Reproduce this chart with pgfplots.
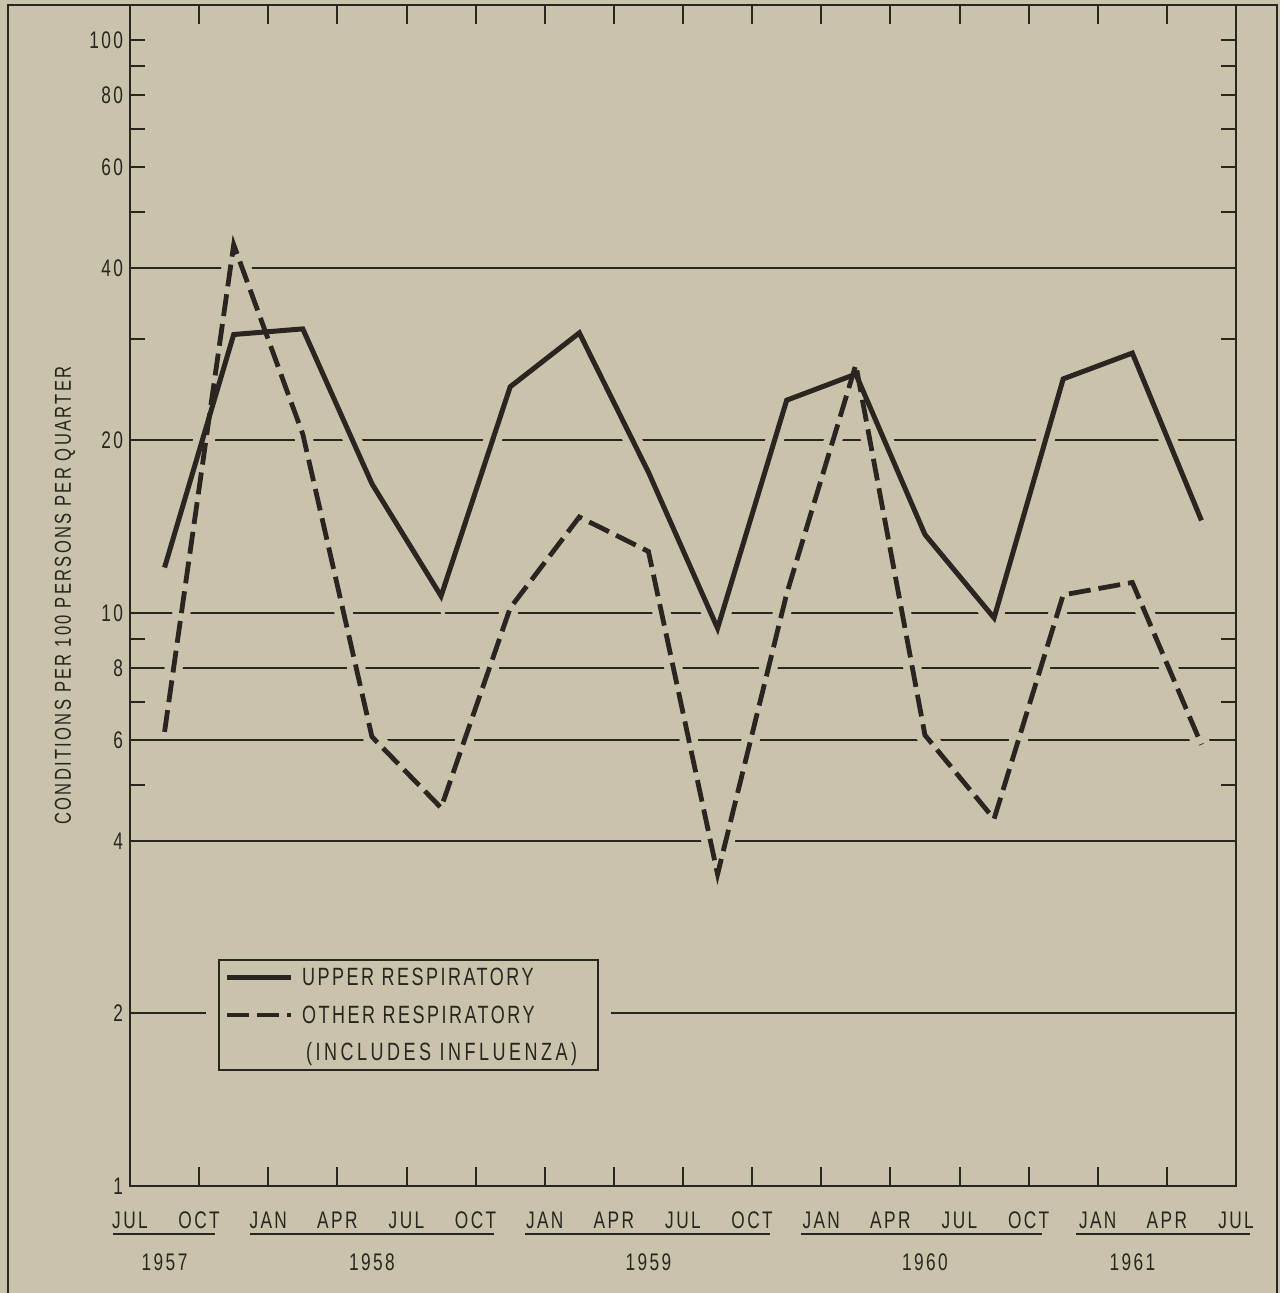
\documentclass[border=0pt]{standalone}
\usepackage{fontspec}
\setmainfont{Liberation Sans}[FakeStretch=0.72, LetterSpace=10]
\usepackage{pgfplots}
\usepackage{pgfplotstable}
\pgfplotsset{compat=1.18}
\definecolor{ink}{HTML}{2A2521}
\definecolor{paper}{HTML}{C9C3AB}

% quarter index (0 = JUL 1957), rates per 100 persons per quarter
\pgfplotstableread{
q     upper  other
0.5   12.0   6.2
1.5   30.6   43.9
2.5   31.3   20.5
3.5   16.8   6.08
4.5   10.7   4.57
5.5   24.8   10.2
6.5   30.8   14.7
7.5   17.6   12.8
8.5   9.4    3.5
9.5   23.5   10.8
10.5  26.1   27.1
11.5  13.7   6.12
12.5  9.8    4.37
13.5  25.6   10.75
14.5  28.4   11.3
15.5  14.5   5.89
}\resp

\begin{document}
\begin{tikzpicture}[font=\fontsize{12}{14}\selectfont, text=ink]
\fill[paper] (-65pt,-53.5pt) rectangle (575pt,593pt);
\begin{axis}[
    scale only axis,
    width=553pt, height=590.5pt,
    at={(0,0)}, anchor=south west,
    ymode=log,
    xmin=0, xmax=16, ymin=1, ymax=115,
    clip mode=individual,
    axis line style={ink, line width=1pt},
    every tick/.style={ink, line width=1pt},
    major tick length=7.5pt, minor tick length=7.5pt,
    xtick={0,...,16},
    xticklabels={JUL,OCT,JAN,APR,JUL,OCT,JAN,APR,JUL,OCT,JAN,APR,JUL,OCT,JAN,APR,JUL},
    xtick style={/pgfplots/major tick length=9.5pt},
    xticklabel style={anchor=center, yshift=-17pt, text height=8.6pt, text depth=0pt},
    ytick={1,60,80,100}, yticklabels={1,60,80,100},
    minor ytick={5,7,9,30,50,70,90},
    extra y ticks={2,4,6,8,10,20,40},
    extra y tick labels={2,4,6,8,10,20,40},
    extra y tick style={grid=major},
    major grid style={ink, line width=1pt},
    legend style={at={(0.0796,0.1922)}, anchor=north west,
        draw=ink, line width=1pt, fill=paper,
        preaction={draw=paper, line width=13pt},
        inner xsep=-2.5pt, inner ysep=2pt, row sep=5.8pt, column sep=-3pt,
        font=\fontsize{12.5}{14}\selectfont, text=ink,
        nodes={text height=8.6pt, text depth=0.5pt}},
    legend cell align=left,
    legend image code/.code={\draw[#1] (0pt,0pt) -- (32pt,0pt);},
]
% paper-coloured halos break the grid lines where the curves cross them
\addplot[paper, line width=9pt, forget plot] table[x=q, y=upper] {\resp};
\addplot[paper, line width=9pt, forget plot] table[x=q, y=other] {\resp};

\addplot[ink, line width=2.5pt] table[x=q, y=upper] {\resp};
\addlegendentry{UPPER RESPIRATORY}
\addplot[ink, line width=2.4pt, dash pattern=on 11pt off 4pt] table[x=q, y=other] {\resp};
\addlegendentry{OTHER RESPIRATORY}
\addlegendimage{empty legend}
\addlegendentry{\addfontfeatures{LetterSpace=14}\,(INCLUDES INFLUENZA)\hspace{11pt}\mbox{}}

% year rows under the month labels
\draw[ink, line width=1pt] ([yshift=-24pt]axis cs:-0.25,1) -- ([yshift=-24pt]axis cs:1.23,1);
\draw[ink, line width=1pt] ([yshift=-24pt]axis cs:1.74,1) -- ([yshift=-24pt]axis cs:5.27,1);
\draw[ink, line width=1pt] ([yshift=-24pt]axis cs:5.72,1) -- ([yshift=-24pt]axis cs:9.26,1);
\draw[ink, line width=1pt] ([yshift=-24pt]axis cs:9.70,1) -- ([yshift=-24pt]axis cs:13.2,1);
\draw[ink, line width=1pt] ([yshift=-24pt]axis cs:13.68,1) -- ([yshift=-24pt]axis cs:16.2,1);
\node at ([yshift=-38pt]axis cs:0.5,1) {1957};
\node at ([yshift=-38pt]axis cs:3.5,1) {1958};
\node at ([yshift=-38pt]axis cs:7.5,1) {1959};
\node at ([yshift=-38pt]axis cs:11.5,1) {1960};
\node at ([yshift=-38pt]axis cs:14.5,1) {1961};

\node[rotate=90, font=\fontsize{11.5}{13}\selectfont] at ([xshift=-32.5pt]rel axis cs:0,0.5)
    {CONDITIONS PER 100 PERSONS PER QUARTER};
\end{axis}
% outer frame of the page
\draw[ink, line width=1pt] (-61pt,-53.5pt) -- (-61pt,590.5pt) -- (573.5pt,590.5pt) -- (573.5pt,-53.5pt);
\pgfresetboundingbox
\path[use as bounding box] (-65pt,-53.5pt) rectangle (575pt,593pt);
\end{tikzpicture}
\end{document}
